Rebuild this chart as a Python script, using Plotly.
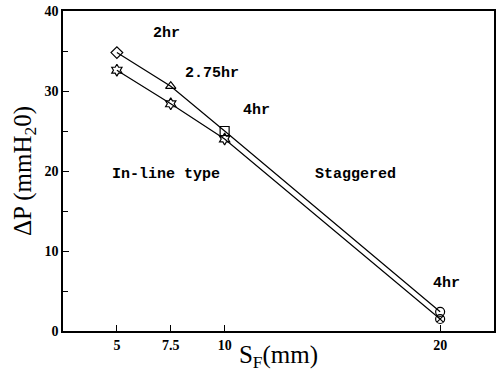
import plotly.graph_objects as go

# Fin spacing (mm) and pressure drop (mmH2O)
fin_spacing = [5, 7.5, 10, 20]
dp_upper = [34.8, 30.6, 25.0, 2.4]
dp_lower = [32.6, 28.4, 24.0, 1.5]
upper_symbols = ["diamond-open", "triangle-up-open", "square-open", "circle-open"]
lower_symbols = ["hexagram-open", "hexagram-open", "hexagram-open", "circle-x-open"]

x_ticks = [5, 7.5, 10, 20]
x_tick_text = ["5", "7.5", "10", "20"]
y_ticks = [0, 10, 20, 30, 40]
y_tick_text = ["0", "10", "20", "30", "40"]

mono = "Liberation Mono"
serif = "Liberation Serif"

fig = go.Figure()
for ys, syms in [(dp_upper, upper_symbols), (dp_lower, lower_symbols)]:
    fig.add_trace(go.Scatter(
        x=fin_spacing, y=ys, mode="lines+markers",
        line=dict(color="black", width=1.2),
        marker=dict(symbol=syms, size=9, color="black",
                    line=dict(color="black", width=1.2)),
        showlegend=False,
    ))

labels = [
    (7.3, 37.2, "2hr"),
    (9.4, 32.2, "2.75hr"),
    (11.5, 27.6, "4hr"),
    (7.3, 19.6, "In-line type"),
    (16.05, 19.6, "Staggered"),
    (20.3, 6.0, "4hr"),
]
for x, y, t in labels:
    fig.add_annotation(x=x, y=y, text=f"<b>{t}</b>", showarrow=False,
                       font=dict(family=mono, size=15, color="black"))

fig.update_xaxes(
    range=[2.5, 22.5], tickvals=x_ticks,
    ticktext=[f"<b>{t}</b>" for t in x_tick_text],
    ticks="inside", ticklen=6, tickwidth=1.2, tickcolor="black",
    showline=True, linecolor="black", linewidth=1.5, mirror=True,
    showgrid=False, zeroline=False, automargin=False,
    tickfont=dict(family=serif, size=14, color="black"),
    title=dict(text="S<sub>F</sub>(mm)", standoff=0,
               font=dict(family=serif, size=25, color="black")),
)
fig.update_yaxes(
    range=[0, 40], tickvals=y_ticks,
    ticktext=[f"<b>{t}</b>" for t in y_tick_text],
    ticks="inside", ticklen=6, tickwidth=1.2, tickcolor="black",
    minor=dict(dtick=5, ticks="inside", ticklen=5, tickcolor="black", tickwidth=1),
    showline=True, linecolor="black", linewidth=1.5, mirror=True,
    showgrid=False, zeroline=False, automargin=False,
    tickfont=dict(family=serif, size=14, color="black"),
    title=dict(text="ΔP (mmH<sub>2</sub>0)", standoff=6,
               font=dict(family=serif, size=25, color="black")),
)
fig.update_layout(
    width=499, height=372,
    margin=dict(l=63, r=5, t=11, b=41),
    plot_bgcolor="white", paper_bgcolor="white",
)
fig.write_html("out.html")
